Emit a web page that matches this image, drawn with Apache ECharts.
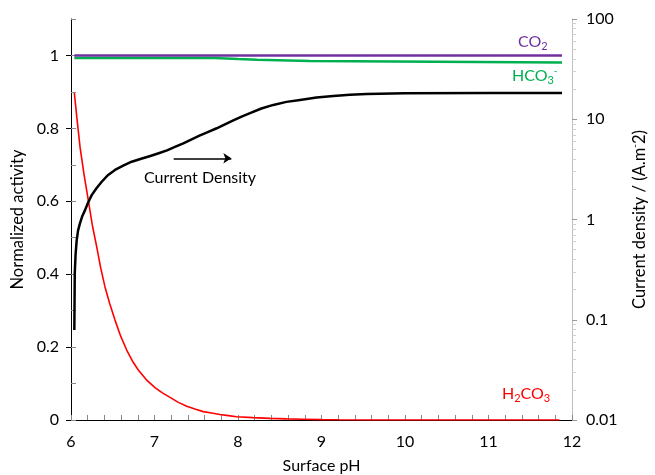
<!DOCTYPE html>
<html lang="en">
<head>
    <meta charset="UTF-8">
    <title>Surface pH</title>
    <script src="https://cdn.jsdelivr.net/npm/echarts@6/dist/echarts.min.js"></script>
    <style>
        html, body { margin: 0; padding: 0; background: #fff; }
        #container { width: 655px; height: 475px; }
    </style>
</head>
<body>
<div id="container"></div>

<script type="text/javascript">
    // values: [surface pH, value]
    var co2 = [[6.04, 1.0], [11.88, 1.0]];
    var hco3 = [[6.04, 0.993], [7.72, 0.990], [8.0, 0.988], [8.23, 0.987], [8.48, 0.985], [8.86, 0.981], [11.88, 0.981]];
    var h2co3 = [[6.04, 0.897], [6.07, 0.83], [6.108, 0.749], [6.155, 0.675], [6.207, 0.603], [6.255, 0.535],
        [6.308, 0.475], [6.355, 0.418], [6.407, 0.365], [6.465, 0.318], [6.527, 0.274], [6.595, 0.230],
        [6.667, 0.192], [6.735, 0.162], [6.806, 0.137], [6.9, 0.111], [7.006, 0.089], [7.09, 0.075],
        [7.186, 0.062], [7.28, 0.049], [7.386, 0.038], [7.484, 0.030], [7.584, 0.023], [7.684, 0.019],
        [7.784, 0.015], [7.884, 0.012], [7.984, 0.009], [8.18, 0.0065], [8.383, 0.0045], [8.58, 0.003],
        [8.78, 0.002], [9.0, 0.001], [9.2, 0.0005], [9.6, 0.0002], [10, 0], [11.85, 0]];
    // current density, A/m2 (right log axis)
    var currentDensity = [[6.04, 0.079], [6.045, 0.29], [6.055, 0.45], [6.068, 0.62], [6.085, 0.78], [6.108, 0.92],
        [6.135, 1.08], [6.168, 1.24], [6.205, 1.48], [6.248, 1.75], [6.305, 2.05], [6.368, 2.38], [6.445, 2.78],
        [6.527, 3.12], [6.625, 3.45], [6.727, 3.77], [6.84, 4.03], [6.95, 4.3], [7.05, 4.58], [7.15, 4.9],
        [7.245, 5.3], [7.345, 5.75], [7.445, 6.3], [7.545, 6.9], [7.645, 7.5], [7.745, 8.13], [7.85, 8.95],
        [7.95, 9.8], [8.05, 10.7], [8.144, 11.5], [8.28, 12.8], [8.423, 13.9], [8.58, 14.9], [8.743, 15.6],
        [8.94, 16.5], [9.142, 17.1], [9.34, 17.6], [9.541, 17.9], [10, 18.2], [11, 18.3], [11.88, 18.3]];
    var arrowLine = [[7.23, 0.718], [7.92, 0.718]];

    var font = 'Lato';
    var chart = echarts.init(document.getElementById('container'), null, {renderer: 'canvas'});

    var option = {
        animation: false,
        textStyle: {fontFamily: font},
        grid: {left: 71, right: 83, top: 19, bottom: 55, outerBoundsMode: 'none', containLabel: false},
        xAxis: {
            type: 'value', min: 6, max: 12, interval: 1,
            name: 'Surface pH', nameLocation: 'middle', nameGap: 38,
            nameTextStyle: {fontSize: 16, color: '#000', fontFamily: font},
            axisLine: {lineStyle: {color: '#000', width: 1}},
            axisTick: {inside: true, length: 5, lineStyle: {color: '#888'}},
            minorTick: {show: true, splitNumber: 5, length: 5, lineStyle: {color: '#888'}},
            axisLabel: {fontSize: 16, color: '#000', margin: 14, fontFamily: font},
            splitLine: {show: false}
        },
        yAxis: [{
            type: 'value', min: 0, max: 1.1, interval: 0.2,
            name: 'Normalized activity', nameLocation: 'middle', nameGap: 42, nameRotate: 90,
            nameTextStyle: {fontSize: 16.5, color: '#000', fontFamily: font},
            axisLine: {show: true, lineStyle: {color: '#000'}},
            axisTick: {inside: false, length: 5, lineStyle: {color: '#000'}},
            axisLabel: {fontSize: 16, color: '#000', margin: 12, showMaxLabel: false, fontFamily: font,
                formatter: function (v) { return Math.abs(v - 1.1) < 1e-6 ? '' : String(Math.round(v * 10) / 10); }},
            splitLine: {show: false}
        }, {
            type: 'log', logBase: 10, min: 0.01, max: 100, position: 'right',
            name: 'Current density / (A.m{sup|-}2)', nameLocation: 'middle', nameGap: 58, nameRotate: 90,
            nameTextStyle: {fontSize: 16.5, color: '#000', fontFamily: font,
                rich: {sup: {fontSize: 10, padding: [0, 0, 9, 0], fontFamily: font}}},
            axisLine: {show: true, lineStyle: {color: '#bfbfbf'}},
            axisTick: {inside: false, length: 5, lineStyle: {color: '#999'}},
            minorTick: {show: true, splitNumber: 9, length: 4, lineStyle: {color: '#d0d0d0'}},
            axisLabel: {fontSize: 16, color: '#000', margin: 14, fontFamily: font,
                formatter: function (v) { return String(v); }},
            splitLine: {show: false}
        }, {
            // minor ticks of the left axis, drawn inside
            type: 'value', min: 0, max: 1.1, interval: 0.1, position: 'left',
            axisLine: {show: false},
            axisTick: {inside: true, length: 5, lineStyle: {color: '#888'}},
            axisLabel: {show: false},
            splitLine: {show: false}
        }],
        series: [{
            name: 'H2CO3', type: 'line', data: h2co3, yAxisIndex: 0,
            showSymbol: false, lineStyle: {color: '#ff0000', width: 1.6}
        }, {
            name: 'HCO3', type: 'line', data: hco3, yAxisIndex: 0, step: 'end',
            showSymbol: false, lineStyle: {color: '#00b050', width: 2.5}
        }, {
            name: 'CO2', type: 'line', data: co2, yAxisIndex: 0,
            showSymbol: false, lineStyle: {color: '#7030a0', width: 2.5}
        }, {
            name: 'Current density', type: 'line', data: currentDensity, yAxisIndex: 1,
            showSymbol: false, lineStyle: {color: '#000', width: 2.5, join: 'round'}
        }, {
            name: 'arrow', type: 'line', data: [], yAxisIndex: 0,
            markLine: {
                silent: true, symbol: ['none', 'arrow'], symbolSize: [8, 8], label: {show: false},
                lineStyle: {color: '#000', width: 1.5, type: 'solid'},
                data: [[{coord: arrowLine[0]}, {coord: arrowLine[1]}]]
            }
        }],
        graphic: [{
            type: 'text', left: 518, top: 34,
            style: {text: 'CO{sub|2}', fill: '#7030a0', font: '16px ' + font,
                rich: {sub: {fontSize: 11, padding: [9, 0, 0, 0], fill: '#7030a0', fontFamily: font}}}
        }, {
            type: 'text', left: 512, top: 66,
            style: {text: 'HCO{sub|3}{sup|-}', fill: '#00b050', font: '16px ' + font,
                rich: {sub: {fontSize: 11, padding: [9, 0, 0, 0], fill: '#00b050', fontFamily: font},
                    sup: {fontSize: 10, padding: [0, 0, 9, 0], fill: '#00b050', fontFamily: font}}}
        }, {
            type: 'text', left: 502, top: 386,
            style: {text: 'H{sub|2}CO{sub|3}', fill: '#ff0000', font: '16px ' + font,
                rich: {sub: {fontSize: 11, padding: [9, 0, 0, 0], fill: '#ff0000', fontFamily: font}}}
        }, {
            type: 'text', left: 144, top: 170,
            style: {text: 'Current Density', fill: '#000', font: '16px ' + font}
        }]
    };
    chart.setOption(option);
</script>
</body>
</html>
